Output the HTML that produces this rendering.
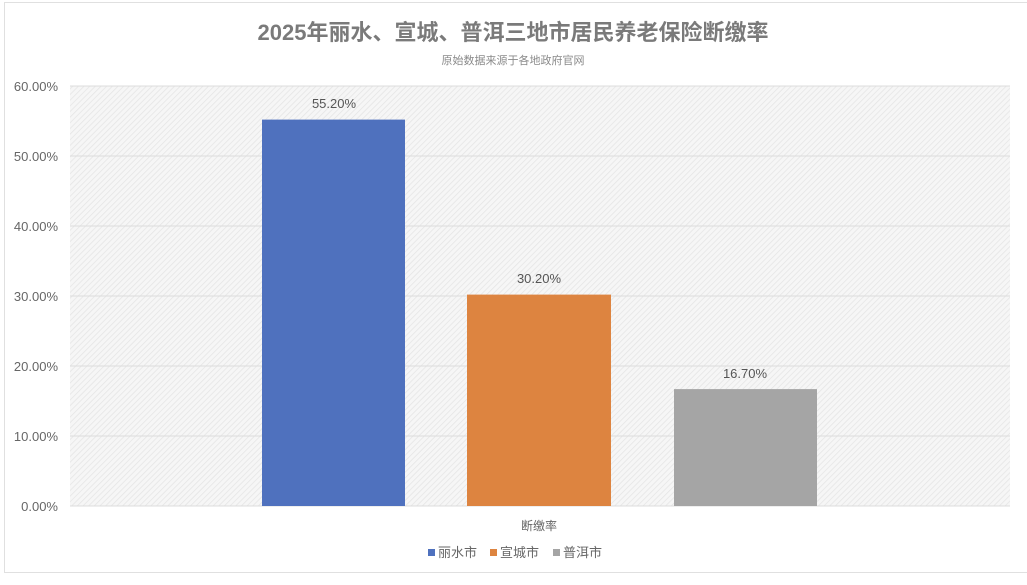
<!DOCTYPE html>
<html><head><meta charset="utf-8"><style>
body{margin:0;background:#fff;width:1027px;height:580px;overflow:hidden;font-family:"Liberation Sans","Noto Sans CJK SC",sans-serif;}
</style></head><body>
<svg width="1027" height="580" xmlns="http://www.w3.org/2000/svg" font-family="Liberation Sans, Noto Sans CJK SC, sans-serif">
<defs><pattern id="h" width="4" height="4" patternUnits="userSpaceOnUse" patternTransform="rotate(45)"><rect width="4" height="4" fill="#f6f6f6"/><line x1="0" y1="0" x2="0" y2="4" stroke="#e4e4e4" stroke-width="1.5"/></pattern></defs>
<rect x="4.5" y="2.5" width="1040" height="570" fill="none" stroke="#e0e0e0"/>
<text x="513" y="40" text-anchor="middle" font-size="22" font-weight="bold" fill="#7a7a7a">2025年丽水、宣城、普洱三地市居民养老保险断缴率</text>
<text x="513" y="64" text-anchor="middle" font-size="11" fill="#8a8a8a">原始数据来源于各地政府官网</text>
<rect x="70" y="86" width="940" height="420" fill="url(#h)"/>
<g stroke="#dcdcdc" stroke-width="1">
<line x1="70" x2="1010" y1="86" y2="86"/><line x1="70" x2="1010" y1="156" y2="156"/><line x1="70" x2="1010" y1="226" y2="226"/><line x1="70" x2="1010" y1="296" y2="296"/><line x1="70" x2="1010" y1="366" y2="366"/><line x1="70" x2="1010" y1="436" y2="436"/><line x1="70" x2="1010" y1="506" y2="506"/>
</g>
<g font-size="13" fill="#666" text-anchor="end">
<text x="58" y="91">60.00%</text><text x="58" y="161">50.00%</text><text x="58" y="231">40.00%</text><text x="58" y="301">30.00%</text><text x="58" y="371">20.00%</text><text x="58" y="441">10.00%</text><text x="58" y="511">0.00%</text>
</g>
<rect x="262" y="119.6" width="143" height="386.4" fill="#4f71be"/>
<rect x="467" y="294.6" width="144" height="211.4" fill="#dd8440"/>
<rect x="674" y="389.1" width="143" height="116.9" fill="#a5a5a5"/>
<g font-size="13" fill="#555" text-anchor="middle">
<text x="334" y="108">55.20%</text><text x="539" y="283">30.20%</text><text x="745" y="378">16.70%</text>
</g>
<text x="539" y="530" text-anchor="middle" font-size="12" fill="#666">断缴率</text>
<g font-size="13" fill="#666">
<rect x="428" y="549" width="7" height="7" fill="#4f71be"/><text x="438" y="557">丽水市</text>
<rect x="490" y="549" width="7" height="7" fill="#dd8440"/><text x="500" y="557">宣城市</text>
<rect x="553" y="549" width="7" height="7" fill="#a5a5a5"/><text x="563" y="557">普洱市</text>
</g>
</svg>
</body></html>
